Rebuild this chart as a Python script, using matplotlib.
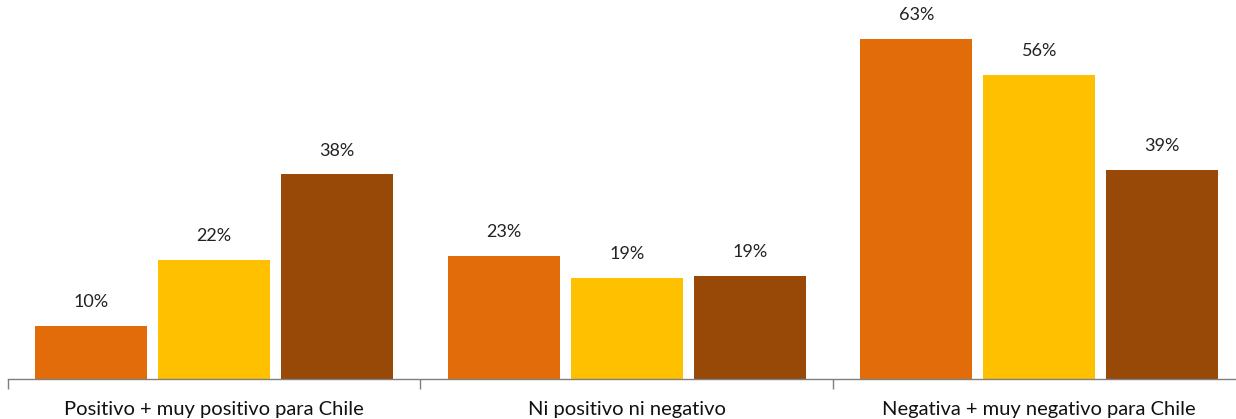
import numpy as np
import matplotlib
matplotlib.use("Agg")
from matplotlib import pyplot as plt

plt.rcParams['font.family'] = ['Lato', 'DejaVu Sans']

categories = ["Positivo + muy positivo para Chile", "Ni positivo ni negativo",
              "Negativa + muy negativo para Chile"]
serie_a = [9.8, 22.8, 63.0]
serie_b = [22.0, 18.7, 56.3]
serie_c = [37.9, 19.1, 38.7]
colors = ['#E36C0A', '#FFC000', '#984807']

fig = plt.figure(figsize=(12.36, 4.19), dpi=100)
ax = fig.add_axes([8 / 1236, 40 / 419, 1237.5 / 1236, 379 / 419])

x = np.arange(len(categories))
width = 0.272
step = 0.298
for i, (vals, c) in enumerate(zip([serie_a, serie_b, serie_c], colors)):
    pos = x + (i - 1) * step
    ax.bar(pos, vals, width, color=c)
    for p, v in zip(pos, vals):
        ax.text(p, v + 4.4, "%.0f%%" % v, ha='center', va='center',
                fontsize=13, color='#222222')

ax.set_xlim(-0.5, 2.5)
ax.set_ylim(0, 70.2)
ax.set_yticks([])
ax.set_xticks(x)
ax.set_xticklabels(categories, fontsize=14.5, color='#111111')
ax.set_xticks([-0.5, 0.5, 1.5, 2.5], minor=True)
ax.tick_params(axis='x', which='major', length=0, pad=16)
ax.tick_params(axis='x', which='minor', length=7, color='#7f7f7f', width=1)
for s in ['top', 'right', 'left']:
    ax.spines[s].set_visible(False)
ax.spines['bottom'].set_color('#7f7f7f')
ax.spines['bottom'].set_linewidth(1)

plt.savefig("out.png", dpi=100)
